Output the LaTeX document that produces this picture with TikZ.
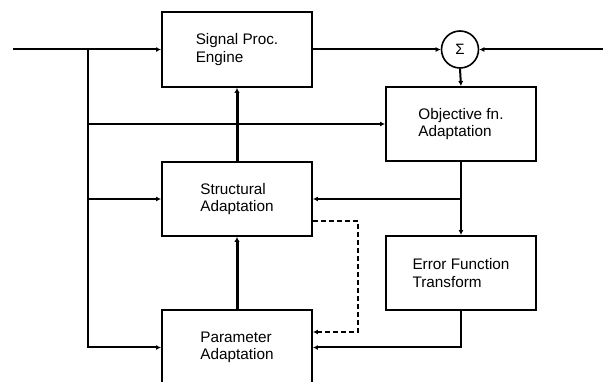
\documentclass[tikz,border=0pt]{standalone}
\usepackage{fontspec}
\setmainfont{Liberation Sans}
\usetikzlibrary{arrows.meta}

\tikzset{
  block/.style={draw, line width=1.9pt, minimum width=150pt, minimum height=75pt,
    align=left, font=\fontsize{15.3}{17.5}\selectfont},
  sumnode/.style={draw, circle, line width=1.6pt, minimum size=37pt, inner sep=0pt,
    font=\fontsize{15}{17}\selectfont},
  wire/.style={line width=2pt, -{Latex[length=5pt,width=5pt]}},
  bigwire/.style={line width=3pt, -{Latex[length=5pt,width=5.5pt]}}
}

\begin{document}
\begin{tikzpicture}[x=1pt, y=-1pt]
  % Frame
  \useasboundingbox (0,0) rectangle (603,382);
  \clip (0,0) rectangle (603,382);

  % Blocks
  \node[block] (engine) at (237, 49.5) {Signal Proc.\\Engine};
  \node[block, minimum height=74pt] (objective) at (461, 124) {Objective fn.\\Adaptation};
  \node[block, minimum height=74pt] (structural) at (237, 199) {Structural\\Adaptation};
  \node[block, minimum height=74pt] (errfn) at (461, 273) {Error Function\\Transform};
  \node[block] (parameter) at (237, 347.5) {Parameter\\Adaptation};

  % Summing point
  \node[sumnode] (sum) at (460, 49.5) {Σ};

  % Inputs
  \coordinate (input) at (13, 49.5);
  \coordinate (tap) at (88, 49.5);
  \coordinate (desired) at (603, 49.5);

  % Forward path
  \draw[wire] (input) -- (engine.west);
  \draw[wire] (engine.east) -- (sum.west);
  \draw[wire] (desired) -- (sum.east);
  \draw[wire] (sum.south) -- (objective.north);

  % Input fan-out
  \draw[wire] (tap) |- (parameter.west);
  \draw[wire] (tap |- objective.west) -- (objective.west);
  \draw[wire] (tap |- structural.west) -- (structural.west);

  % Adaptation chain
  \draw[bigwire] (structural.north) -- (engine.south);
  \draw[bigwire] (parameter.north) -- (structural.south);

  % Feedback
  \draw[wire] (objective.south) -- (errfn.north);
  \draw[wire] (objective.south |- structural.east) -- (structural.east);
  \draw[wire] (errfn.south) |- (parameter.east);
  \draw[wire, dashed, dash pattern=on 5pt off 3pt]
    ([yshift=-22pt]structural.east) -- ++(45,0) |- ([yshift=15.5pt]parameter.east);
\end{tikzpicture}
\end{document}
